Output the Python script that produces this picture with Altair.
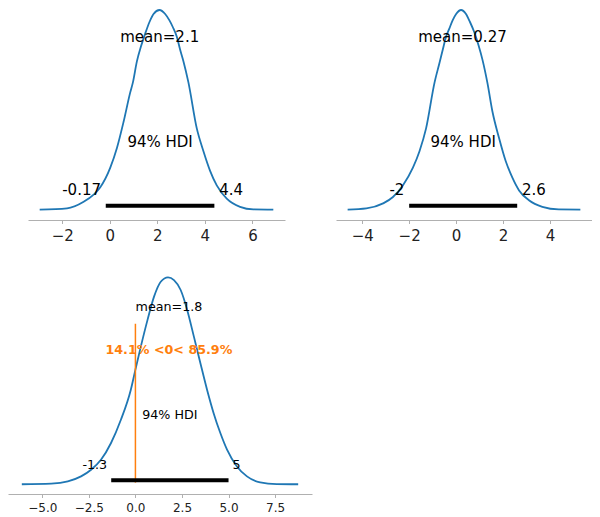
import altair as alt
import pandas as pd

FONT = "DejaVu Sans"
BLUE = "#1f77b4"
ORANGE = "#ff7f0e"

# ---------------- data ----------------
# panel 1 : posterior density (relative to its peak)
p1_x = [-2.95, -1.80, -1.10, -0.68, -0.40, 0.02, 0.30, 0.58, 0.86, 0.97, 1.14, 1.31,
        1.49, 1.67, 1.84, 2.09, 2.33, 2.51, 2.65, 2.82, 2.96, 3.10, 3.31, 3.66,
        3.94, 4.22, 4.50, 4.92, 5.48, 6.04, 6.88]
p1_d = [0.002, 0.008, 0.041, 0.077, 0.114, 0.212, 0.310, 0.441, 0.588, 0.637, 0.743, 0.817,
        0.882, 0.940, 0.980, 1.0, 0.980, 0.948, 0.915, 0.866, 0.801, 0.743, 0.637, 0.408,
        0.294, 0.196, 0.123, 0.057, 0.016, 0.003, 0.002]
p1_hdi = [-0.17, 4.4]
p1_hdi_text = ["-0.17", "4.4"]
p1_mean = 2.1
p1_mean_text = "mean=2.1"
p1_ticks = [-2, 0, 2, 4, 6]

# panel 2
p2_x = [-4.62, -3.82, -3.11, -2.69, -2.27, -1.84, -1.56, -1.28, -0.92, -0.71, -0.57, -0.43,
        -0.29, -0.15, 0.00, 0.21, 0.42, 0.59, 0.77, 0.95, 1.12, 1.33, 1.55, 1.83,
        2.11, 2.39, 2.68, 3.10, 3.67, 4.37, 5.29]
p2_d = [0.002, 0.008, 0.033, 0.065, 0.123, 0.212, 0.294, 0.408, 0.637, 0.735, 0.801, 0.866,
        0.907, 0.948, 0.980, 1.0, 0.980, 0.940, 0.890, 0.825, 0.752, 0.637, 0.490, 0.359,
        0.245, 0.163, 0.098, 0.049, 0.016, 0.003, 0.002]
p2_hdi = [-2.0, 2.6]
p2_hdi_text = ["-2", "2.6"]
p2_mean = 0.27
p2_mean_text = "mean=0.27"
p2_ticks = [-4, -2, 0, 2, 4]

# panel 3
p3_x = [-6.10, -4.52, -3.63, -2.92, -2.38, -1.85, -1.31, -0.78, -0.25, 0.0, 0.29, 0.65,
        1.00, 1.36, 1.75, 2.07, 2.43, 2.78, 3.14, 3.49, 3.85, 4.20, 4.56, 4.92,
        5.45, 5.99, 6.70, 7.59, 8.74]
p3_d = [0.002, 0.005, 0.016, 0.040, 0.072, 0.120, 0.201, 0.313, 0.457, 0.555, 0.666, 0.795,
        0.907, 0.979, 1.0, 0.987, 0.939, 0.843, 0.714, 0.586, 0.457, 0.345, 0.249, 0.169,
        0.088, 0.040, 0.011, 0.003, 0.002]
p3_hdi = [-1.3, 5.0]
p3_hdi_text = ["-1.3", "5"]
p3_mean = 1.8
p3_mean_text = "mean=1.8"
p3_ref = 0.0
p3_ref_text = "14.1% <0< 85.9%"
p3_ticks = [-5.0, -2.5, 0.0, 2.5, 5.0, 7.5]

# ---------------- layout constants (ArviZ plot_posterior placement) ----------------
PH = 1.05          # top of y-limits relative to the density peak
MEAN_F = 0.8
REF_F = 0.6
HDI_TXT_F = 0.3
HDI_VAL_F = 0.07
HDI_BAR_F = 0.02


def panel(xs, ds, hdi, hdi_lbl, mean, mean_lbl, ticks, fmt, width, height,
          ydom, xrange, fs, tfs, ref=None, ref_lbl=None, ref_fs=None):
    lo, hi = min(xs), max(xs)
    m = 0.05 * (hi - lo)
    xsc = alt.Scale(domain=[lo - m, hi + m], nice=False, zero=False, range=xrange)
    ysc = alt.Scale(domain=ydom, nice=False, zero=False)
    xax = alt.Axis(values=ticks, format=fmt, title=None, grid=False,
                   labelFontSize=tfs, labelFont=FONT, labelColor="#222222",
                   domainColor="#b0b0b0", tickColor="#b0b0b0", tickSize=3.5,
                   labelPadding=4.5, labelFlush=False, labelOverlap=False)

    def X(field="x"):
        return alt.X(f"{field}:Q", scale=xsc, axis=xax)

    def Y(field="y"):
        return alt.Y(f"{field}:Q", scale=ysc, axis=None)

    layers = []
    layers.append(
        alt.Chart(pd.DataFrame({"x": xs, "y": ds}))
        .mark_line(color=BLUE, strokeWidth=1.8, interpolate="monotone", strokeJoin="round")
        .encode(x=X(), y=Y())
    )
    if ref is not None:
        layers.append(
            alt.Chart(pd.DataFrame({"x": [ref], "y": [ydom[0] + 0.05 * (ydom[1] - ydom[0])],
                                    "y2": [ydom[0] + 0.75 * (ydom[1] - ydom[0])]}))
            .mark_rule(color=ORANGE, strokeWidth=1.5)
            .encode(x=X(), y=Y(), y2="y2:Q")
        )
    layers.append(
        alt.Chart(pd.DataFrame({"x": [hdi[0]], "x2": [hdi[1]], "y": [HDI_BAR_F * PH]}))
        .mark_rule(color="black", strokeWidth=4, strokeCap="butt")
        .encode(x=X(), x2="x2:Q", y=Y())
    )
    sp = 0.318 * fs
    layers.append(
        alt.Chart(pd.DataFrame({"x": [hdi[0]], "y": [HDI_VAL_F * PH], "t": [hdi_lbl[0]]}))
        .mark_text(align="right", baseline="alphabetic", dx=-sp, font=FONT, fontSize=fs, color="black")
        .encode(x=X(), y=Y(), text="t:N")
    )
    layers.append(
        alt.Chart(pd.DataFrame({"x": [hdi[1]], "y": [HDI_VAL_F * PH], "t": [hdi_lbl[1]]}))
        .mark_text(align="left", baseline="alphabetic", dx=sp, font=FONT, fontSize=fs, color="black")
        .encode(x=X(), y=Y(), text="t:N")
    )
    layers.append(
        alt.Chart(pd.DataFrame({"x": [(hdi[0] + hdi[1]) / 2], "y": [HDI_TXT_F * PH], "t": ["94% HDI"]}))
        .mark_text(align="center", baseline="alphabetic", font=FONT, fontSize=fs, color="black")
        .encode(x=X(), y=Y(), text="t:N")
    )
    layers.append(
        alt.Chart(pd.DataFrame({"x": [mean], "y": [MEAN_F * PH], "t": [mean_lbl]}))
        .mark_text(align="center", baseline="alphabetic", font=FONT, fontSize=fs, color="black")
        .encode(x=X(), y=Y(), text="t:N")
    )
    if ref is not None:
        layers.append(
            alt.Chart(pd.DataFrame({"x": [mean], "y": [REF_F * PH], "t": [ref_lbl]}))
            .mark_text(align="center", baseline="alphabetic", font=FONT, fontSize=ref_fs,
                       fontWeight="bold", color=ORANGE)
            .encode(x=X(), y=Y(), text="t:N")
        )
    return alt.layer(*layers).properties(width=width, height=height)


p1 = panel(p1_x, p1_d, p1_hdi, p1_hdi_text, p1_mean, p1_mean_text, p1_ticks, "d",
           277, 212, [-0.05, 1.01], [20, 277], 15, 15)
p2 = panel(p2_x, p2_d, p2_hdi, p2_hdi_text, p2_mean, p2_mean_text, p2_ticks, "d",
           256, 212, [-0.05, 1.01], [0, 256], 15, 15)
p3 = panel(p3_x, p3_d, p3_hdi, p3_hdi_text, p3_mean, p3_mean_text, p3_ticks, ".1f",
           304, 227, [-0.045, 1.05], [0, 304], 12.7, 12,
           ref=p3_ref, ref_lbl=p3_ref_text, ref_fs=12.7)

chart = (
    alt.vconcat(alt.hconcat(p1, p2, spacing=51), p3, spacing=24)
    .properties(padding=0)
    .configure_view(stroke=None)
)

chart.save("out.html", embed_options={"renderer": "svg", "actions": False})
